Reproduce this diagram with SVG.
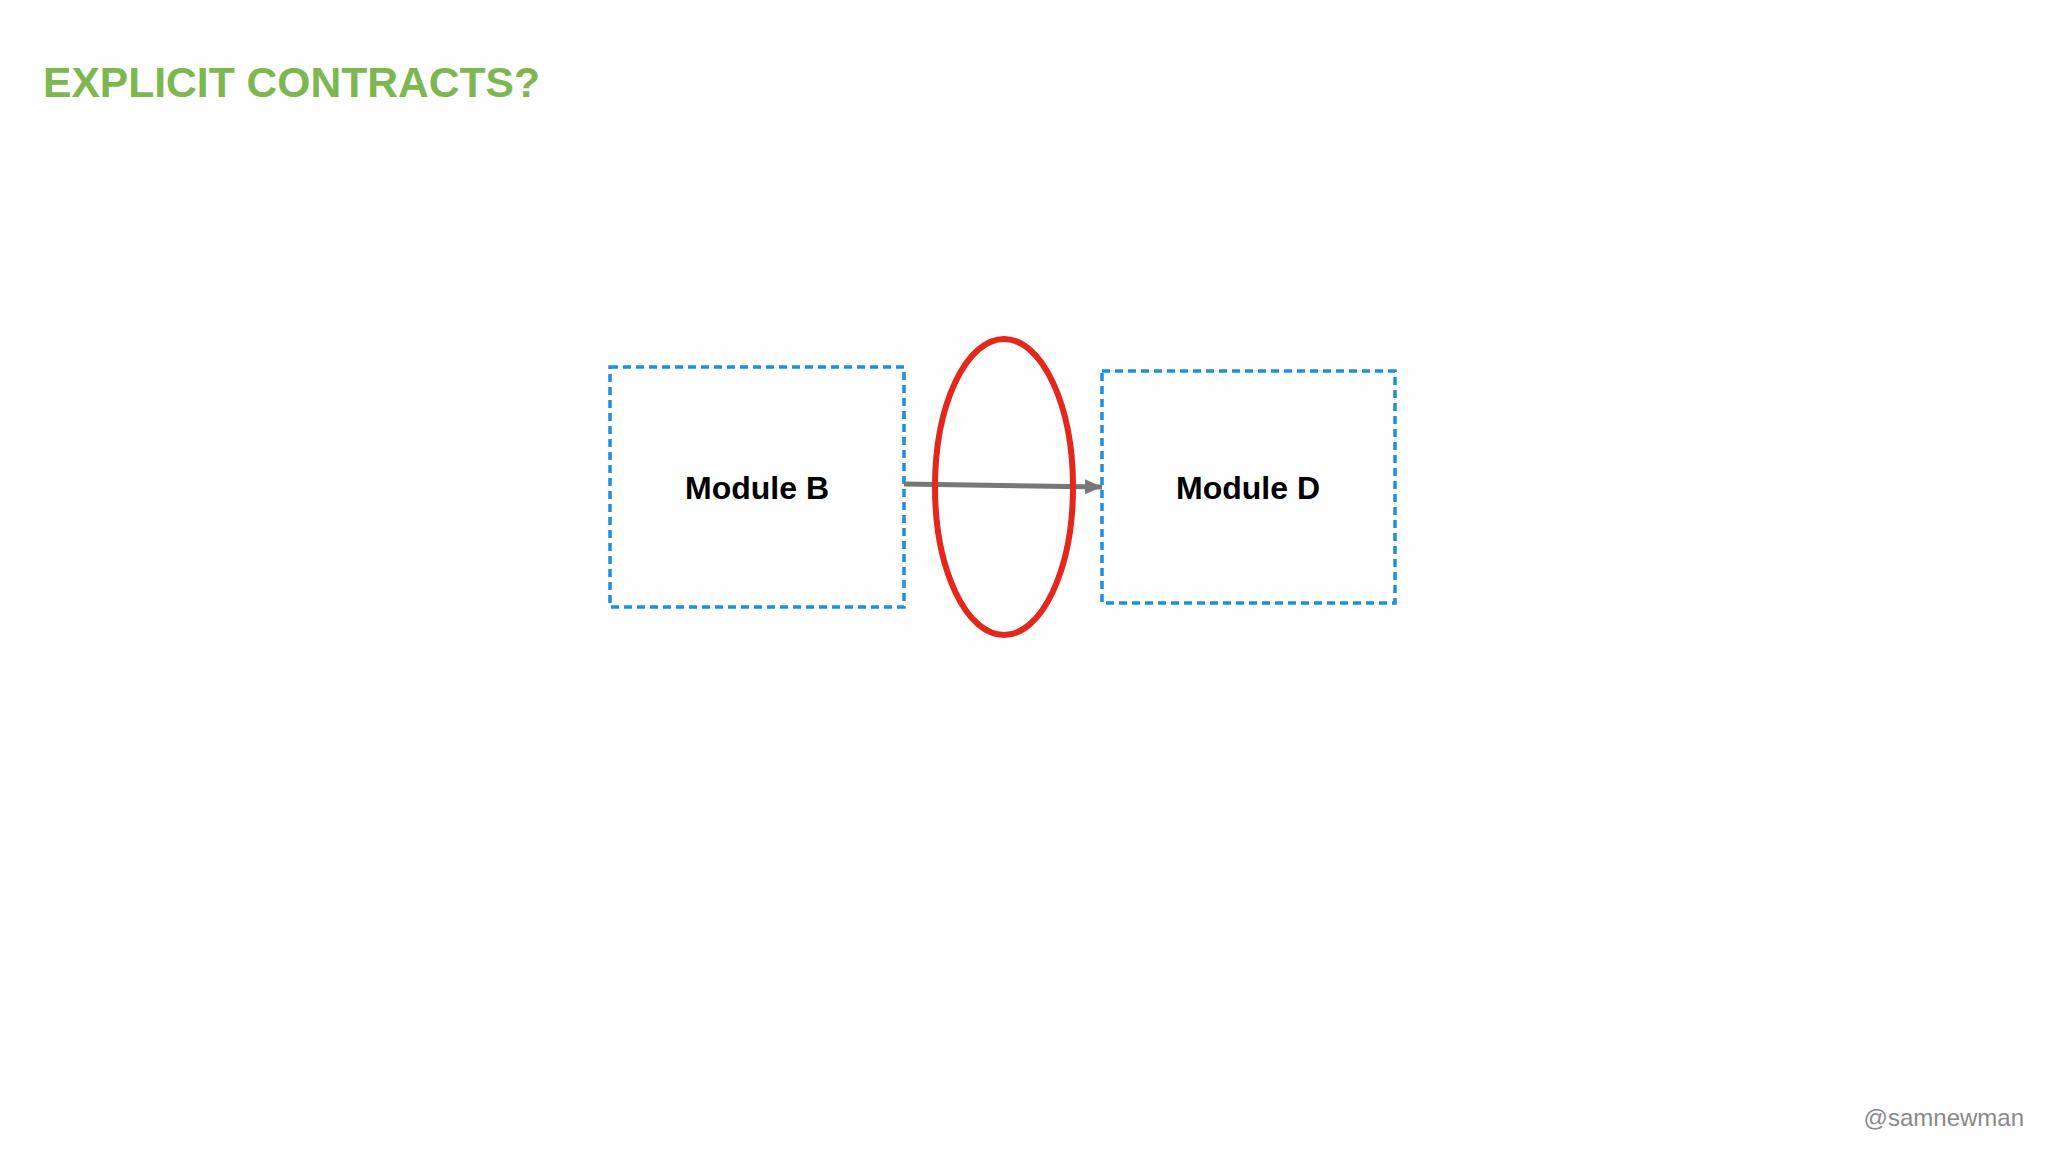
<svg xmlns="http://www.w3.org/2000/svg" width="2048" height="1152" viewBox="0 0 2048 1152">
<defs>
<style>
.box{fill:none;stroke:#1b8fe3;stroke-width:3.5;stroke-dasharray:8 5}
.lbl{font-family:"Liberation Sans",Arial,sans-serif;font-weight:bold;font-size:32px;fill:#000;text-anchor:middle}
</style>
<marker id="ah" markerWidth="17" markerHeight="15" refX="17" refY="7.5" orient="auto" markerUnits="userSpaceOnUse" viewBox="0 0 17 15">
<path d="M0,0 L17,7.5 L0,15 Z" fill="#777"/>
</marker>
</defs>
<rect width="2048" height="1152" fill="#fefefe"/>
<text x="43" y="97" font-family="Liberation Sans,Arial,sans-serif" font-weight="bold" font-size="42.6" fill="#7cb74f">EXPLICIT CONTRACTS?</text>
<g id="module-b">
<rect class="box" x="610" y="367" width="294" height="240"/>
<text class="lbl" x="757" y="499">Module B</text>
</g>
<g id="module-d">
<rect class="box" x="1102" y="371" width="293" height="232"/>
<text class="lbl" x="1248" y="499">Module D</text>
</g>
<g id="connectors">
<line x1="904" y1="484" x2="1102" y2="487" stroke="#777" stroke-width="5" marker-end="url(#ah)"/>
</g>
<g id="contract">
<ellipse cx="1004" cy="487" rx="69" ry="148" fill="none" stroke="#e5261b" stroke-width="6"/>
</g>
<text x="2024" y="1126" text-anchor="end" font-family="Liberation Sans,Arial,sans-serif" font-size="24" fill="#8a8a8a">@samnewman</text>
</svg>
